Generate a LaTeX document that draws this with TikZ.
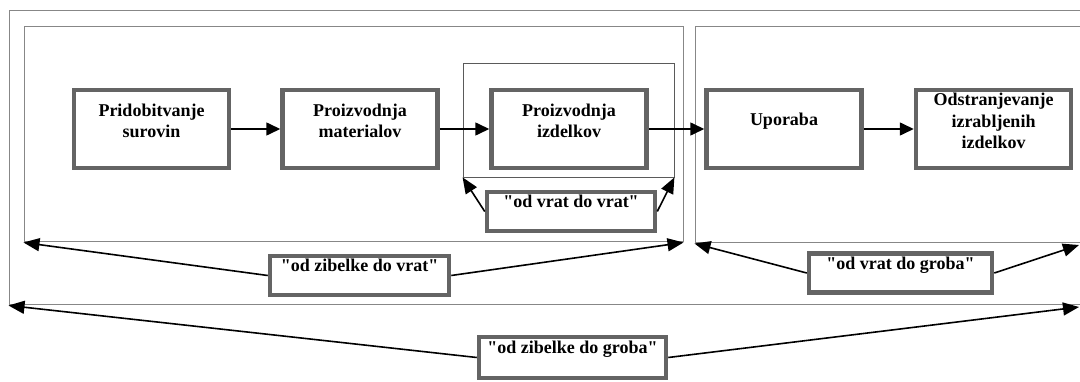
\documentclass[tikz,border=0pt]{standalone}
\usepackage{fontspec}
\newfontfamily\diagfont{Liberation Serif}
\usetikzlibrary{arrows.meta}
\definecolor{boxgray}{RGB}{100,100,100}
\definecolor{framegray}{RGB}{135,135,135}
\definecolor{gategray}{RGB}{90,90,90}
\begin{document}
\begin{tikzpicture}[x=1pt,y=-1pt,
  stagebox/.style={draw=boxgray, line width=4.5pt, minimum width=155pt, minimum height=78pt, inner sep=0pt},
  stagetxt/.style={font=\diagfont\fontsize{18}{21.6}\selectfont\bfseries, align=center, inner sep=0pt},
  labelbox/.style={draw=boxgray, line width=4.5pt, inner sep=0pt, minimum height=39pt,
     font=\diagfont\fontsize{18}{21.6}\selectfont\bfseries, text height=13pt, text depth=20pt},
  frame/.style={draw=framegray, line width=1pt, inner sep=0pt},
  gateframe/.style={draw=gategray, line width=0.8pt, inner sep=0pt},
  flow/.style={line width=1.6pt, -{Triangle[length=14pt,width=13pt]}},
  span/.style={line width=1.6pt, -{Triangle[length=16pt,width=13pt]}}
]
\clip (0,0) rectangle (1080,382);
\fill[white] (0,0) rectangle (1080,382);

% frames
\node[frame, minimum width=1076pt, minimum height=294pt] (fo) at (547,158) {};
\node[frame, minimum width=659pt, minimum height=215pt] (f1) at (353.5,134.5) {};
\node[frame, minimum width=390pt, minimum height=216pt] (f2) at (890,135) {};
\node[gateframe, minimum width=211pt, minimum height=114pt] (gf) at (568.5,120) {};

% stage boxes
\node[stagebox] (b1) at (151.5,129) {};
\node[stagebox] (b2) at (360,129) {};
\node[stagebox] (b3) at (569,129) {};
\node[stagebox] (b4) at (784,129) {};
\node[stagebox] (b5) at (993.5,129) {};
\node[stagetxt] (t1) at ([yshift=8pt]b1.center) {Pridobitvanje\\surovin};
\node[stagetxt] (t2) at ([yshift=8pt]b2.center) {Proizvodnja\\materialov};
\node[stagetxt] (t3) at ([yshift=8pt]b3.center) {Proizvodnja\\izdelkov};
\node[stagetxt] (t4) at ([yshift=8pt]b4.center) {Uporaba};
\node[stagetxt] (t5) at ([yshift=8pt]b5.center) {Odstranjevanje\\izrabljenih\\izdelkov};

\draw[flow] (b1.east) -- (b2.west);
\draw[flow] (b2.east) -- (b3.west);
\draw[flow] (b3.east) -- (b4.west);
\draw[flow] (b4.east) -- (b5.west);

% scope labels
\node[labelbox, minimum width=168pt] (gg) at (571,211.5) {"od vrat do vrat"};
\node[labelbox, minimum width=179pt] (zv) at (359.5,275.5) {"od zibelke do vrat"};
\node[labelbox, minimum width=183pt] (vg) at (900.5,273) {"od vrat do groba"};
\node[labelbox, minimum width=187pt, minimum height=41pt] (zg) at (572.5,357.5) {"od zibelke do groba"};

\coordinate (vgend) at (1079,245);
\coordinate (zgend) at (1079,307);

\draw[span] (gg.west) -- (gf.south west);
\draw[span] (gg.east) -- (gf.south east);
\draw[span] (zv.west) -- (f1.south west);
\draw[span] (zv.east) -- (f1.south east);
\draw[span] (vg.west) -- (f2.south west);
\draw[span] (vg.east) -- (vgend);
\draw[span] (zg.west) -- (fo.south west);
\draw[span] (zg.east) -- (zgend);
\end{tikzpicture}
\end{document}
